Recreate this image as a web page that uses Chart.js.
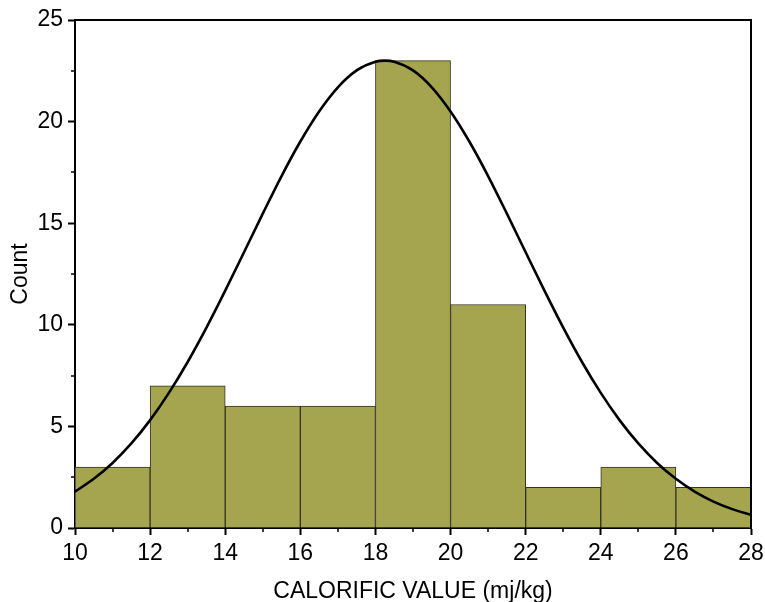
<!DOCTYPE html>
<html>
<head>
<meta charset="utf-8">
<script src="https://cdn.jsdelivr.net/npm/chart.js@4.4.1/dist/chart.umd.min.js"></script>
<style>
  html, body { margin: 0; padding: 0; background: #fff; }
  #wrap { width: 765px; height: 602px; }
</style>
</head>
<body>
<div id="wrap"><canvas id="c" width="765" height="602"></canvas></div>
<script>
// Histogram bins (bin centres) and counts
const binCenters = [11, 13, 15, 17, 19, 21, 23, 25, 27];
const binCounts  = [3, 7, 6, 6, 23, 11, 2, 3, 2];

// Fitted normal curve, sampled along the x range
const curveX = [10, 10.5, 11, 11.5, 12, 12.5, 13, 13.5, 14, 14.5, 15, 15.5, 16, 16.5, 17, 17.5, 18, 18.25, 18.5,
                19, 19.5, 20, 20.5, 21, 21.5, 22, 22.5, 23, 23.5, 24, 24.5, 25, 25.5, 26, 26.5, 27, 27.5, 28];
const curveY = [1.79, 2.42, 3.20, 4.16, 5.31, 6.65, 8.17, 9.86, 11.68, 13.57, 15.47, 17.32, 19.02, 20.50, 21.69, 22.52, 22.95, 23.00, 22.95,
                22.52, 21.69, 20.50, 19.02, 17.32, 15.47, 13.57, 11.68, 9.86, 8.17, 6.65, 5.31, 4.16, 3.20, 2.42, 1.79, 1.30, 0.93, 0.65];

// Axis ticks
const xTicks = [10, 12, 14, 16, 18, 20, 22, 24, 26, 28];
const yTicks = [0, 5, 10, 15, 20, 25];
const xMinorTicks = [11, 13, 15, 17, 19, 21, 23, 25, 27];
const yMinorTicks = [2.5, 7.5, 12.5, 17.5, 22.5];

const FONT = "'Liberation Sans', Arial, sans-serif";

// Closes the plot box on top/right and adds minor ticks on the outer side
const framePlugin = {
  id: 'frame',
  afterDraw(chart) {
    const { ctx, chartArea: a, scales } = chart;
    ctx.save();
    ctx.strokeStyle = '#000';
    ctx.lineWidth = 2;
    ctx.beginPath();
    ctx.moveTo(a.left, a.top);
    ctx.lineTo(a.right, a.top);
    ctx.lineTo(a.right, a.bottom);
    ctx.stroke();
    ctx.lineWidth = 1.5;
    ctx.beginPath();
    xMinorTicks.forEach(v => {
      const px = Math.round(scales.x.getPixelForValue(v));
      ctx.moveTo(px, a.bottom);
      ctx.lineTo(px, a.bottom + 4);
    });
    yMinorTicks.forEach(v => {
      const py = Math.round(scales.y.getPixelForValue(v));
      ctx.moveTo(a.left, py);
      ctx.lineTo(a.left - 4, py);
    });
    ctx.stroke();
    ctx.restore();
  }
};

new Chart(document.getElementById('c'), {
  type: 'bar',
  data: {
    datasets: [
      {
        type: 'line',
        data: curveX.map((x, i) => ({ x, y: curveY[i] })),
        borderColor: '#000',
        borderWidth: 2.6,
        pointRadius: 0,
        cubicInterpolationMode: 'monotone',
        fill: false,
        order: 0
      },
      {
        type: 'bar',
        data: binCenters.map((x, i) => ({ x, y: binCounts[i] })),
        backgroundColor: '#a5a54f',
        borderColor: '#333326',
        borderWidth: 1,
        barPercentage: 1,
        categoryPercentage: 1,
        order: 1
      }
    ]
  },
  options: {
    responsive: false,
    animation: false,
    layout: { padding: { top: 20, right: 14, left: 0, bottom: 0 } },
    plugins: { legend: { display: false }, tooltip: { enabled: false } },
    scales: {
      x: {
        type: 'linear',
        min: 10, max: 28,
        offset: false,
        afterBuildTicks: s => { s.ticks = xTicks.map(v => ({ value: v })); },
        afterFit: s => { s.height = 74; s.paddingLeft = 0; s.paddingRight = 0; },
        ticks: { color: '#000', font: { family: FONT, size: 23 }, padding: 5, maxRotation: 0 },
        grid: { drawOnChartArea: false, tickLength: 7, tickWidth: 2, tickColor: '#000', offset: false },
        border: { color: '#000', width: 2 },
        title: { display: true, text: 'CALORIFIC VALUE (mj/kg)', color: '#000', font: { family: FONT, size: 23 }, padding: { top: 9, bottom: -3 } }
      },
      y: {
        min: 0, max: 25,
        afterBuildTicks: s => { s.ticks = yTicks.map(v => ({ value: v })); },
        afterFit: s => { s.width = 75; s.paddingTop = 0; s.paddingBottom = 0; },
        ticks: { color: '#000', font: { family: FONT, size: 23 }, padding: 5 },
        grid: { drawOnChartArea: false, tickLength: 7, tickWidth: 2, tickColor: '#000' },
        border: { color: '#000', width: 2 },
        title: { display: true, text: 'Count', color: '#000', font: { family: FONT, size: 23 }, padding: { top: 7, bottom: 6 } }
      }
    }
  },
  plugins: [framePlugin]
});
</script>
</body>
</html>
